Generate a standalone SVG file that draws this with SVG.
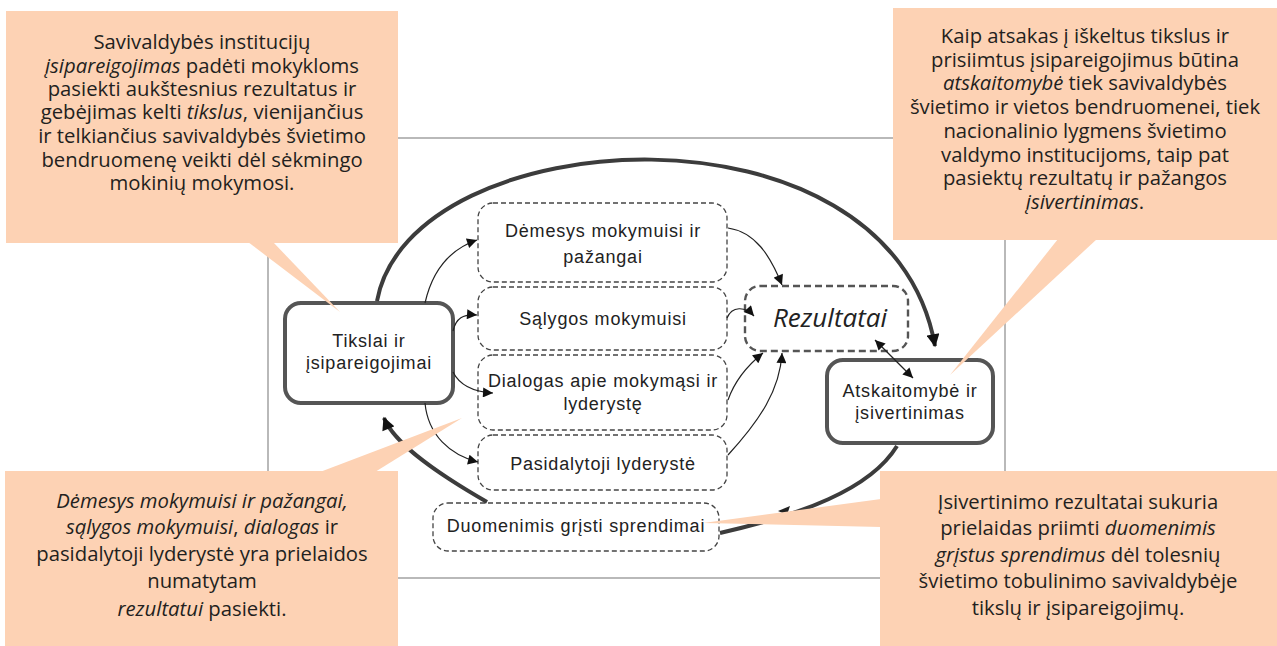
<svg xmlns="http://www.w3.org/2000/svg" width="1277" height="646" viewBox="0 0 1277 646">
<style>
.frame{fill:none;stroke:#a8a8a8;stroke-width:1.6}
.main{fill:#fff;stroke:#555;stroke-width:4}
.dash{fill:#fff;stroke:#444;stroke-width:1.3;stroke-dasharray:5 3}
.res{fill:#fff;stroke:#555;stroke-width:2.4;stroke-dasharray:7 4}
.nt{font-family:"Liberation Sans",Arial,sans-serif;font-size:18px;letter-spacing:0.8px;fill:#222;text-anchor:middle}
.rt{font-family:"Open Sans","Noto Sans",sans-serif;font-size:26px;font-style:italic;fill:#222;text-anchor:middle}
.thick{fill:none;stroke:#3c3c3c;stroke-width:4}
.thin{fill:none;stroke:#222;stroke-width:1.2}
.co{fill:#FDD2B4}
.ct{font-family:"Open Sans","Noto Sans",sans-serif;font-size:20.3px;fill:#231F20;text-anchor:middle}
.it{font-style:italic}
</style>
<defs>
<marker id="ah" viewBox="0 0 10 10" refX="10" refY="5" markerWidth="12" markerHeight="10" markerUnits="userSpaceOnUse" orient="auto-start-reverse"><path d="M0,0 L10,5 L0,10 z" fill="#111"/></marker>
<marker id="ahb" viewBox="0 0 10 10" refX="9" refY="5" markerWidth="15" markerHeight="13" markerUnits="userSpaceOnUse" orient="auto"><path d="M0,0 L10,5 L0,10 z" fill="#111"/></marker>
</defs>
<rect class="frame" x="268" y="138" width="737" height="440"/>
<g id="nodes">
<g id="n-tikslai"><rect class="main" x="285" y="303" width="168" height="100" rx="16"/><text class="nt" x="369" y="347">Tikslai ir</text><text class="nt" x="369" y="369">įsipareigojimai</text></g>
<g id="n-demesys"><rect class="dash" x="478" y="203" width="249" height="79" rx="15"/><text class="nt" x="603" y="237">Dėmesys mokymuisi ir</text><text class="nt" x="603" y="263">pažangai</text></g>
<g id="n-salygos"><rect class="dash" x="478" y="287" width="249" height="63" rx="15"/><text class="nt" x="603" y="325">Sąlygos mokymuisi</text></g>
<g id="n-dialogas"><rect class="dash" x="478" y="355" width="249" height="75" rx="15"/><text class="nt" x="603" y="387">Dialogas apie mokymąsi ir</text><text class="nt" x="603" y="410">lyderystę</text></g>
<g id="n-pasidalytoji"><rect class="dash" x="478" y="435" width="249" height="55" rx="15"/><text class="nt" x="603" y="470">Pasidalytoji lyderystė</text></g>
<g id="n-duomenimis"><rect class="dash" x="433" y="503" width="286" height="48" rx="15"/><text class="nt" x="576" y="532">Duomenimis grįsti sprendimai</text></g>
<g id="n-rezultatai"><rect class="res" x="745" y="286" width="163" height="65" rx="15"/><text class="rt" x="830" y="327">Rezultatai</text></g>
<g id="n-atskaitomybe"><rect class="main" x="827" y="360" width="166" height="83" rx="16"/><text class="nt" x="910" y="397">Atskaitomybė ir</text><text class="nt" x="910" y="419">įsivertinimas</text></g>
</g>
<g id="connectors">
<path class="thick" d="M377,301 C410,120 890,90 935,346" marker-end="url(#ahb)"/>
<path class="thick" d="M897,446 C870,490 800,515 720,533"/>
<path d="M778,511 L790,506 L787,515 z" fill="#222"/>
<path class="thick" d="M487,502 C440,475 395,445 384,418" marker-end="url(#ahb)"/>
<path class="thin" d="M425,303 C432,272 448,250 477,240" marker-end="url(#ah)"/>
<path class="thin" d="M453,331 C456,318 463,314 477,315" marker-end="url(#ah)"/>
<path class="thin" d="M453,372 C460,386 475,392 493,393" marker-end="url(#ah)"/>
<path class="thin" d="M425,403 C428,435 450,455 478,462" marker-end="url(#ah)"/>
<path class="thin" d="M728,228 C755,232 770,255 782,285" marker-end="url(#ah)"/>
<path class="thin" d="M727,318 C732,306 745,306 754,316" marker-end="url(#ah)"/>
<path class="thin" d="M728,400 C735,380 748,365 763,353" marker-end="url(#ah)"/>
<path class="thin" d="M728,455 C760,420 780,390 782,353" marker-end="url(#ah)"/>
<path class="thin" d="M875,340 L913,378" marker-start="url(#ah)" marker-end="url(#ah)"/>
</g>
<g id="callout-tl">
<polygon class="co" points="248,242 273,242 340,312"/>
<rect class="co" x="6" y="11" width="392" height="232"/>
<text class="ct" x="202" y="49">Savivaldybės institucijų</text>
<text class="ct" x="202" y="73"><tspan class="it">įsipareigojimas</tspan> padėti mokykloms</text>
<text class="ct" x="202" y="96">pasiekti aukštesnius rezultatus ir</text>
<text class="ct" x="202" y="119">gebėjimas kelti <tspan class="it">tikslus</tspan>, vienijančius</text>
<text class="ct" x="202" y="143">ir telkiančius savivaldybės švietimo</text>
<text class="ct" x="202" y="167">bendruomenę veikti dėl sėkmingo</text>
<text class="ct" x="202" y="190">mokinių mokymosi.</text>
</g>
<g id="callout-tr">
<polygon class="co" points="1058,239 1097,239 950,375"/>
<rect class="co" x="893" y="8" width="384" height="232"/>
<text class="ct" x="1085" y="43">Kaip atsakas į iškeltus tikslus ir</text>
<text class="ct" x="1085" y="67">prisiimtus įsipareigojimus būtina</text>
<text class="ct" x="1085" y="90"><tspan class="it">atskaitomybė</tspan> tiek savivaldybės</text>
<text class="ct" x="1085" y="114">švietimo ir vietos bendruomenei, tiek</text>
<text class="ct" x="1085" y="138">nacionalinio lygmens švietimo</text>
<text class="ct" x="1085" y="162">valdymo institucijoms, taip pat</text>
<text class="ct" x="1085" y="185">pasiektų rezultatų ir pažangos</text>
<text class="ct" x="1085" y="209"><tspan class="it">įsivertinimas</tspan>.</text>
</g>
<g id="callout-bl">
<polygon class="co" points="320,472 375,472 462,418"/>
<rect class="co" x="5" y="471" width="393" height="175"/>
<text class="ct" x="202" y="508"><tspan class="it">Dėmesys mokymuisi ir pažangai,</tspan></text>
<text class="ct" x="202" y="534"><tspan class="it">sąlygos mokymuisi</tspan>, <tspan class="it">dialogas</tspan> ir</text>
<text class="ct" x="202" y="561">pasidalytoji lyderystė yra prielaidos</text>
<text class="ct" x="202" y="588">numatytam</text>
<text class="ct" x="202" y="616"><tspan class="it">rezultatui</tspan> pasiekti.</text>
</g>
<g id="callout-br">
<polygon class="co" points="881,499 881,527 703,523"/>
<rect class="co" x="880" y="471" width="397" height="175"/>
<text class="ct" x="1078" y="509">Įsivertinimo rezultatai sukuria</text>
<text class="ct" x="1078" y="535">prielaidas priimti <tspan class="it">duomenimis</tspan></text>
<text class="ct" x="1078" y="562"><tspan class="it">grįstus sprendimus</tspan> dėl tolesnių</text>
<text class="ct" x="1078" y="588">švietimo tobulinimo savivaldybėje</text>
<text class="ct" x="1078" y="615">tikslų ir įsipareigojimų.</text>
</g>
</svg>
